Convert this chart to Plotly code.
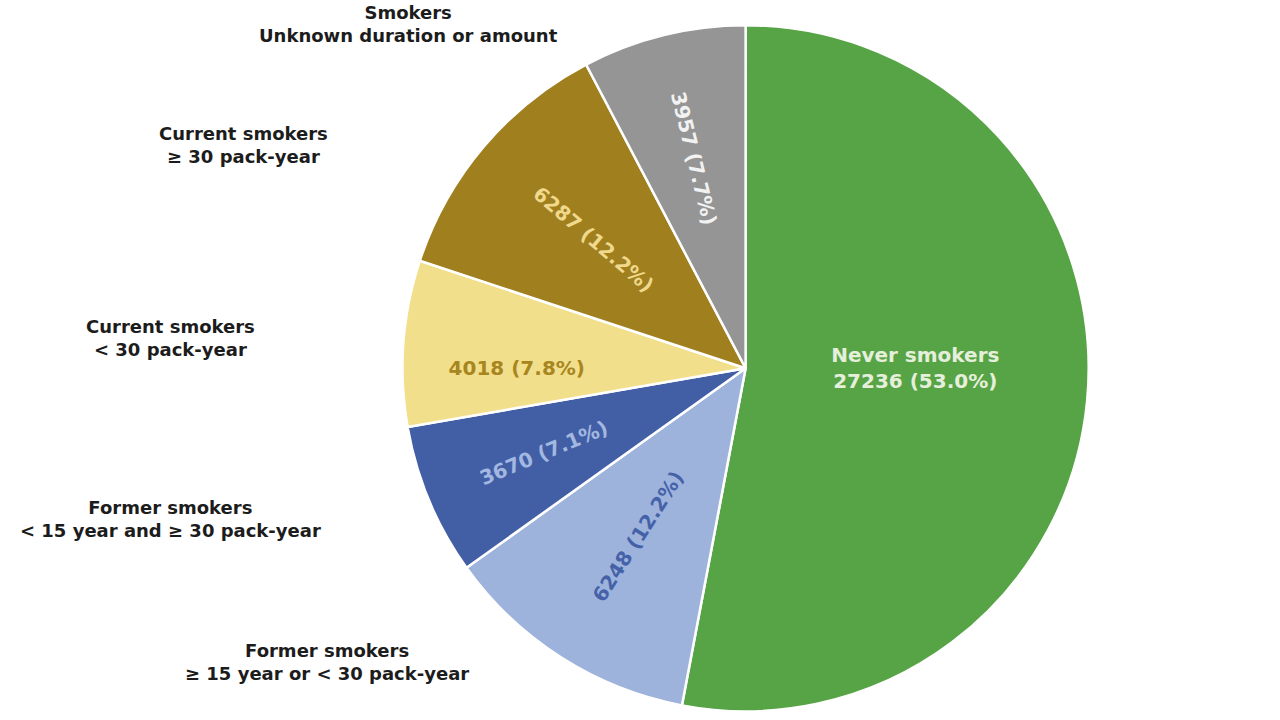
import plotly.graph_objects as go

categories = [
    "Never smokers",
    "Former smokers ≥ 15 year or < 30 pack-year",
    "Former smokers < 15 year and ≥ 30 pack-year",
    "Current smokers < 30 pack-year",
    "Current smokers ≥ 30 pack-year",
    "Smokers Unknown duration or amount",
]
values = [27236, 6248, 3670, 4018, 6287, 3957]
slice_colors = ["#57a446", "#9db3dc", "#425fa6", "#f2df8c", "#a07f1f", "#959595"]
text_colors = ["#e6efdc", "#4562a8", "#a3b8e0", "#a8861f", "#f0d98c", "#f2f2f2"]
outside_labels = [
    "Smokers<br>Unknown duration or amount",
    "Current smokers<br>≥ 30 pack-year",
    "Current smokers<br>< 30 pack-year",
    "Former smokers<br>< 15 year and ≥ 30 pack-year",
    "Former smokers<br>≥ 15 year or < 30 pack-year",
]
label_pos = [(408, 24), (243, 145), (170, 338), (170, 519), (327, 662)]

templates = ["Never smokers<br>%{value:d} (%{percent:.1%})"] + ["%{value:d} (%{percent:.1%})"] * 5

FONT = "DejaVu Sans, Verdana, sans-serif"

fig = go.Figure(go.Pie(
    labels=categories,
    values=values,
    sort=False,
    direction="clockwise",
    rotation=0,
    marker=dict(colors=slice_colors, line=dict(color="white", width=2.5)),
    texttemplate=templates,
    textinfo="text",
    textposition="inside",
    insidetextorientation="radial",
    insidetextfont=dict(color=text_colors, size=20, family=FONT, weight="bold"),
    showlegend=False,
    hoverinfo="label+value+percent",
    domain=dict(x=[0.25, 0.915], y=[0.012, 0.965]),
))

for txt, (px, py) in zip(outside_labels, label_pos):
    fig.add_annotation(
        x=px / 1280, y=1 - py / 720, xref="paper", yref="paper",
        text=txt, showarrow=False, xanchor="center", yanchor="middle",
        font=dict(size=18, color="#1c1c1c", family=FONT, weight="bold"),
        align="center",
    )

fig.update_layout(
    width=1280, height=720,
    margin=dict(l=0, r=0, t=0, b=0),
    paper_bgcolor="white",
    plot_bgcolor="white",
)

fig.write_html("out.html")
